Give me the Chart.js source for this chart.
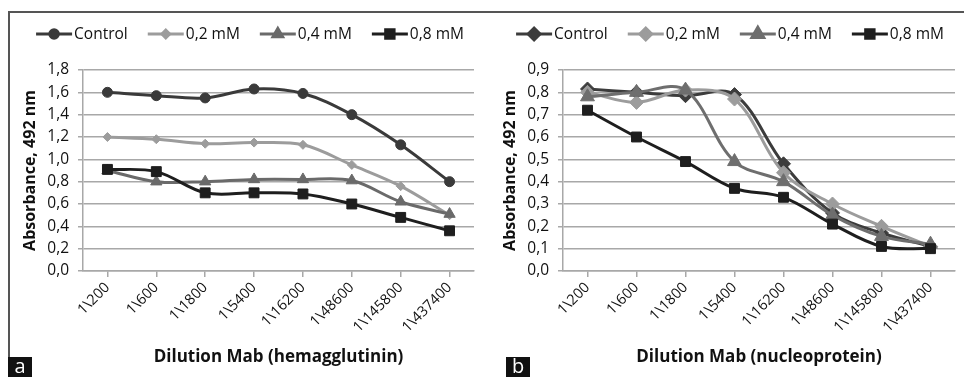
<!DOCTYPE html>
<html>
<head>
<meta charset="utf-8">
<script src="https://cdn.jsdelivr.net/npm/chart.js@4.4.1/dist/chart.umd.min.js"></script>
<style>
  body { margin: 0; background: #fff; width: 964px; height: 377px; overflow: hidden; position: relative; font-family: "Open Sans", sans-serif; }
  #frame { position: absolute; left: 8px; top: 11px; width: 960px; height: 370px; border-top: 2px solid #555; border-left: 2px solid #555; }
  .panel { position: absolute; top: 0; height: 377px; }
  .tag { position: absolute; top: 357px; height: 20px; width: 24px; background: #111; color: #fff; font: 20px/18px "Open Sans", sans-serif; text-align: center; }
</style>
</head>
<body>
<div id="frame"></div>
<div class="panel" style="left:0;width:482px"><canvas id="chartA" width="482" height="377"></canvas></div>
<div class="panel" style="left:480px;width:484px"><canvas id="chartB" width="484" height="377"></canvas></div>
<div class="tag" style="left:8px">a</div>
<div class="tag" style="left:506px">b</div>

<script>
// dilution steps (x axis)
const dilutions = ['1\\200', '1\\600', '1\\1800', '1\\5400', '1\\16200', '1\\48600', '1\\145800', '1\\437400'];
const seriesNames = ['Control', '0,2 mM', '0,4 mM', '0,8 mM'];

// panel a - hemagglutinin
const hemaControl = [1.60, 1.57, 1.55, 1.63, 1.59, 1.40, 1.13, 0.80];
const hema02 = [1.20, 1.18, 1.14, 1.15, 1.13, 0.95, 0.76, 0.50];
const hema04 = [0.90, 0.80, 0.80, 0.82, 0.82, 0.81, 0.62, 0.51];
const hema08 = [0.91, 0.89, 0.70, 0.70, 0.69, 0.60, 0.48, 0.36];
const hemaTicks = ['0,0', '0,2', '0,4', '0,6', '0,8', '1,0', '1,2', '1,4', '1,6', '1,8'];

// panel b - nucleoprotein
const nucControl = [0.815, 0.80, 0.785, 0.79, 0.48, 0.26, 0.17, 0.11];
const nuc02 = [0.80, 0.755, 0.81, 0.77, 0.44, 0.30, 0.20, 0.11];
const nuc04 = [0.78, 0.80, 0.81, 0.49, 0.40, 0.25, 0.155, 0.12];
const nuc08 = [0.72, 0.60, 0.49, 0.37, 0.33, 0.21, 0.11, 0.10];
const nucTicks = ['0,0', '0,1', '0,2', '0,3', '0,4', '0,5', '0,6', '0,7', '0,8', '0,9'];

const gridGrey = '#a8a8a8';
const font = '"Open Sans", sans-serif';
const ink = '#111';

// legend with a line segment + marker, like the spreadsheet one
const lineLegend = {
  id: 'lineLegend',
  afterDraw(chart, args, opts) {
    const ctx = chart.ctx;
    const lineLen = 36, gap = 2, itemGap = 20;
    ctx.save();
    ctx.font = '15.5px ' + font;
    const sets = chart.data.datasets;
    const widths = sets.map(ds => lineLen + gap + ctx.measureText(ds.label).width);
    const total = widths.reduce((a, b) => a + b, 0) + itemGap * (sets.length - 1);
    let x = opts.centerX - total / 2;
    const y = opts.y;
    sets.forEach((ds, i) => {
      ctx.strokeStyle = ds.borderColor;
      ctx.lineWidth = 3;
      ctx.beginPath();
      ctx.moveTo(x, y);
      ctx.lineTo(x + lineLen, y);
      ctx.stroke();
      ctx.fillStyle = ds.borderColor;
      Chart.helpers.drawPoint(ctx, { pointStyle: ds.pointStyle, radius: ds.pointRadius * 0.85, rotation: 0, borderWidth: 1 }, x + lineLen / 2, y);
      ctx.fillStyle = ink;
      ctx.textBaseline = 'middle';
      ctx.fillText(ds.label, x + lineLen + gap, y + 1);
      x += widths[i] + itemGap;
    });
    ctx.restore();
  }
};

function makeSet(label, data, color, style, radius, order) {
  return {
    label, data,
    borderColor: color, backgroundColor: color,
    pointBackgroundColor: color, pointBorderColor: color,
    pointStyle: style, pointRadius: radius, pointBorderWidth: 1,
    borderWidth: 3, tension: 0.35, order
  };
}

function makeChart(id, datasets, max, step, tickLabels, xTitle) {
  return new Chart(document.getElementById(id), {
    type: 'line',
    data: { labels: dilutions, datasets },
    plugins: [lineLegend],
    options: {
      responsive: false,
      animation: false,
      layout: { padding: { top: 70, right: 2, left: 0, bottom: 0 } },
      plugins: {
        legend: { display: false },
        tooltip: { enabled: false },
        lineLegend: { centerX: 250, y: 34 }
      },
      scales: {
        x: {
          offset: true,
          afterFit(scale) { scale.height = 106; },
          grid: { drawOnChartArea: false, drawTicks: true, tickLength: 6, color: gridGrey, lineWidth: 1.5 },
          border: { color: gridGrey, width: 1.5 },
          ticks: { minRotation: 45, maxRotation: 45, autoSkip: false, color: ink, font: { family: font, size: 14.5 }, padding: 2 },
          title: { display: true, text: xTitle, color: ink, font: { family: font, size: 17, weight: 'bold' }, padding: { top: 0, bottom: 10 } }
        },
        y: {
          min: 0, max: max,
          afterFit(scale) { scale.width = 83; },
          grid: { color: gridGrey, lineWidth: 1.5, tickLength: 5 },
          border: { color: gridGrey, width: 1.5 },
          ticks: {
            stepSize: step, color: ink, font: { family: font, size: 15.5 }, padding: 9,
            callback: (v, i) => tickLabels[i]
          },
          title: { display: true, text: 'Absorbance, 492 nm', color: ink, font: { family: font, size: 16, weight: 'bold' }, padding: { top: 21, bottom: 0 } }
        }
      }
    }
  });
}

makeChart('chartA', [
  makeSet(seriesNames[0], hemaControl, '#3a3a3a', 'circle', 5, 3),
  makeSet(seriesNames[1], hema02, '#9c9c9c', 'rectRot', 4.5, 2),
  makeSet(seriesNames[2], hema04, '#6a6a6a', 'triangle', 6.5, 1),
  makeSet(seriesNames[3], hema08, '#1e1e1e', 'rect', 7, 0)
], 1.8, 0.2, hemaTicks, 'Dilution Mab (hemagglutinin)');

makeChart('chartB', [
  makeSet(seriesNames[0], nucControl, '#3c3c3c', 'rectRot', 7, 3),
  makeSet(seriesNames[1], nuc02, '#9c9c9c', 'rectRot', 7, 2),
  makeSet(seriesNames[2], nuc04, '#6e6e6e', 'triangle', 8, 1),
  makeSet(seriesNames[3], nuc08, '#1e1e1e', 'rect', 7, 0)
], 0.9, 0.1, nucTicks, 'Dilution Mab (nucleoprotein)');
</script>
</body>
</html>
